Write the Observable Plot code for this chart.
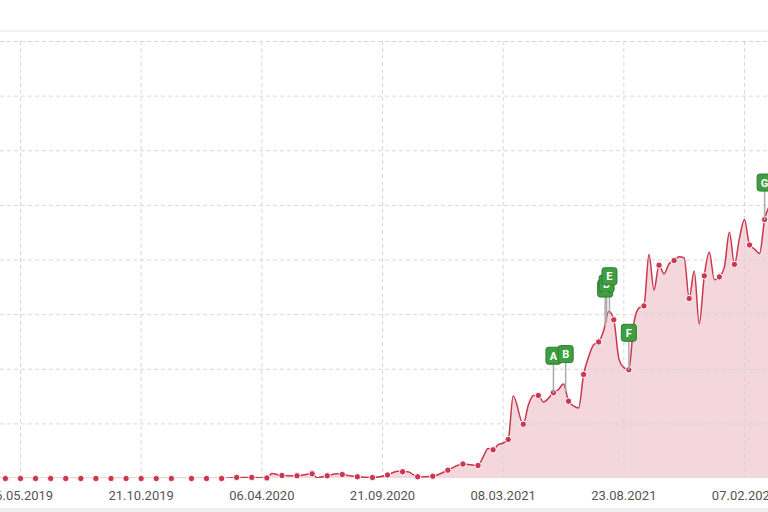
<!DOCTYPE html>
<html><head><meta charset="utf-8">
<script src="https://cdn.jsdelivr.net/npm/d3@7"></script>
<script src="https://cdn.jsdelivr.net/npm/@observablehq/plot@0.6"></script>
<style>
html,body{margin:0;padding:0;background:#fff;overflow:hidden;width:768px;height:512px;}
#wrap{position:relative;width:768px;height:512px;overflow:hidden;}
#chart{position:absolute;left:0;top:0;}
#topline{position:absolute;left:0;top:30px;width:768px;height:2px;background:#f1f1f1;}
#bottomband{position:absolute;left:0;top:508px;width:768px;height:4px;background:#efefef;}
</style></head><body>
<div id="wrap"><div id="chart"></div><div id="topline"></div><div id="bottomband"></div></div>
<script>
// Weekly series: dots (every third week) and intermediate line vertices
const dotDates = ["2019-04-15","2019-05-06","2019-05-27","2019-06-17","2019-07-08","2019-07-29","2019-08-19","2019-09-09","2019-09-30","2019-10-21","2019-11-11","2019-12-02","2019-12-30","2020-01-20","2020-02-10","2020-03-02","2020-03-23","2020-04-13","2020-05-04","2020-05-25","2020-06-15","2020-07-06","2020-07-27","2020-08-17","2020-09-07","2020-09-28","2020-10-19","2020-11-09","2020-11-30","2020-12-21","2021-01-11","2021-02-01","2021-02-22","2021-03-15","2021-04-05","2021-04-26","2021-05-17","2021-06-07","2021-06-28","2021-07-19","2021-08-09","2021-08-30","2021-09-20","2021-10-11","2021-11-01","2021-11-22","2021-12-13","2022-01-03","2022-01-24","2022-02-14","2022-03-07"];
const dotValues = [0,0,0,0,0,0,0,0,0,0,0,0,0,0,0,0.2,0.2,0.1,0.55,0.5,0.86,0.5,0.73,0.31,0.18,0.64,1.23,0.31,0.42,1.52,2.65,2.38,5.25,7.14,9.94,15.2,15.7,14.15,19.04,25.0,29.05,19.9,31.6,39.05,39.9,32.95,37.1,36.9,39.2,42.75,47.4];
const lineDates = ["2019-04-08","2020-04-20","2020-06-22","2020-07-20","2020-10-12","2020-10-26","2021-02-08","2021-02-15","2021-03-01","2021-03-08","2021-03-22","2021-04-12","2021-04-19","2021-05-03","2021-05-24","2021-05-31","2021-06-14","2021-06-21","2021-07-05","2021-07-12","2021-07-26","2021-08-02","2021-08-16","2021-08-23","2021-09-06","2021-09-13","2021-09-27","2021-10-04","2021-10-18","2021-10-25","2021-11-08","2021-11-15","2021-11-29","2021-12-06","2021-12-20","2021-12-27","2022-01-10","2022-01-17","2022-01-31","2022-02-07","2022-02-21","2022-02-28","2022-03-14"];
const lineValues = [0,0.9,0.15,0.85,1.35,1.25,3.9,5.5,6.2,6.5,15.1,13.4,15.2,14.0,16.3,17.3,13.3,12.9,22.3,24.5,27.1,30.6,22,20.3,28.5,31.2,41.0,34.5,37.5,39.3,40.6,40.4,38.0,28.3,41.4,36.4,38.7,45.1,44.0,47.4,42.0,41.2,50];
const tickDates = ["2019-05-06","2019-10-21","2020-04-06","2020-09-21","2021-03-08","2021-08-23","2022-02-07"];
const gridValues = [10,20,30,40,50,60,70,80];
const flagLetters = ["A","B","C","D","E","F","G"];
const flagDates = ["2021-05-17","2021-06-03","2021-07-28","2021-07-30","2021-08-03","2021-08-30","2022-03-07"];
const flagValues = [15.7,16.0,28.0,28.9,30.25,19.9,47.4];

const parse = d3.utcParse("%Y-%m-%d");
const dots = dotDates.map((d,i)=>({date:parse(d), value:dotValues[i]}));
const series = dots.concat(lineDates.map((d,i)=>({date:parse(d), value:lineValues[i]})))
  .sort((a,b)=>a.date-b.date);
const ticks = tickDates.map(parse);
const flags = flagLetters.map((l,i)=>({letter:l, date:parse(flagDates[i]), value:flagValues[i]}));

// x domain chosen so first tick sits at 20px and last at 744px
const t0 = ticks[0].getTime(), t1 = ticks[ticks.length-1].getTime();
const k = 724/(t1-t0);
const domainX = [new Date(t0 - 20/k), new Date(t1 + 24/k)];

const red = "#c9384f";
const W = 15, H = 17, R = 2.5;
const flagSymbol = {draw(ctx){
  const x0=-W/2, y0=-H/2, x1=W/2, y1=H/2;
  ctx.moveTo(x0+R,y0); ctx.lineTo(x1-R,y0); ctx.arcTo(x1,y0,x1,y0+R,R);
  ctx.lineTo(x1,y1-R); ctx.arcTo(x1,y1,x1-R,y1,R);
  ctx.lineTo(x0+R,y1); ctx.arcTo(x0,y1,x0,y1-R,R);
  ctx.lineTo(x0,y0+R); ctx.arcTo(x0,y0,x0+R,y0,R); ctx.closePath();
}};
const stemShape = {draw(ctx, l){ ctx.moveTo(0,0); ctx.lineTo(0,-l); }};
const FLAG_DY = -37;

const flagMarks = flags.flatMap(f => [
  Plot.dot([f], {x:"date", y:"value", symbol:flagSymbol, r:8, fill:"#3f9d42", stroke:"#2c7f30", strokeWidth:1, dy:FLAG_DY}),
  Plot.text([f], {x:"date", y:"value", text:"letter", dy:FLAG_DY+0.5, fill:"white", fontWeight:"bold", fontSize:11, fontFamily:"Roboto"})
]);

const chart = Plot.plot({
  width:768, height:512,
  marginTop:41, marginBottom:34, marginLeft:0, marginRight:0,
  style:{fontFamily:"Roboto", fontSize:"13px", color:"#555", background:"transparent"},
  x:{type:"utc", domain:domainX},
  y:{domain:[0,80], axis:null},
  marks:[
    Plot.areaY(series, {x:"date", y:"value", curve:"monotone-x", fill:red, fillOpacity:0.2, clip:true}),
    Plot.gridX(ticks, {stroke:"#d8d8d8", strokeOpacity:1, strokeDasharray:"4,3"}),
    Plot.gridY(gridValues, {stroke:"#d8d8d8", strokeOpacity:1, strokeDasharray:"4,3"}),
    Plot.line(series, {x:"date", y:"value", curve:"monotone-x", stroke:red, strokeWidth:1.5, clip:true}),
    Plot.dot(dots, {x:"date", y:"value", r:3.2, fill:red, stroke:"white", strokeWidth:1}),
    Plot.vector(flags, {x:"date", y:"value", length:28, rotate:0, anchor:"start", shape:stemShape, stroke:"#ababab", strokeWidth:1.5}),
    ...flagMarks,
    Plot.axisX(ticks, {tickFormat:d3.utcFormat("%d.%m.%Y"), tickSize:0, tickPadding:12, fontSize:13, fill:"#555"})
  ]
});
document.getElementById("chart").appendChild(chart);
</script>
</body></html>
